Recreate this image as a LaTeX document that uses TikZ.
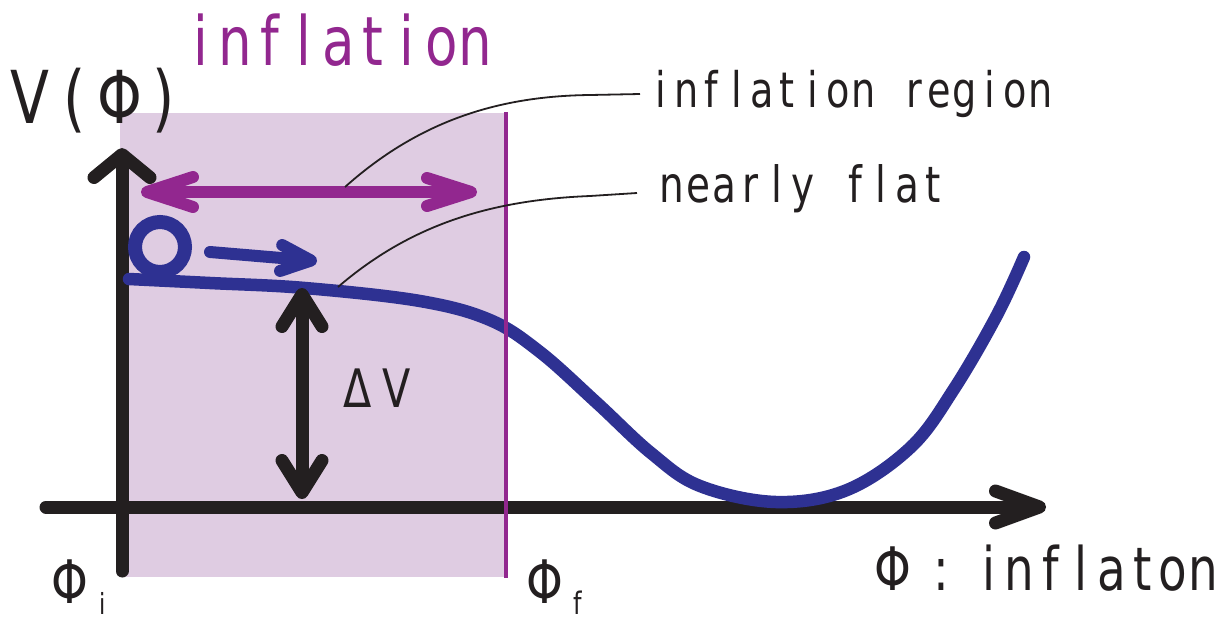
\documentclass[tikz,border=0pt]{standalone}
\usepackage{fontspec}
\setmainfont{DejaVu Sans}
\newfontfamily\jf[FakeStretch=0.78]{DejaVu Sans}
\usetikzlibrary{arrows.meta}
\definecolor{pur}{RGB}{146,39,143}
\definecolor{blu}{RGB}{46,49,146}
\definecolor{blk}{RGB}{35,31,32}
\definecolor{regionfill}{RGB}{223,204,226}
\newlength\mpitch
\def\mono#1{\monoloop#1\relax}
\def\monoloop#1{\ifx#1\relax\else\makebox[\mpitch][c]{#1}\expandafter\monoloop\fi}
\newcommand\fsz[1]{\jf\fontsize{#1pt}{#1pt}\selectfont}
\begin{document}
\begin{tikzpicture}[x=1pt,y=-1pt,
  txt/.style={inner sep=0pt, anchor=base west, text=blk},
  axisline/.style={draw=blk, line width=13pt, line cap=round, line join=round},
  leader/.style={draw=blk, line width=1.8pt},
]
\useasboundingbox (0,0) rectangle (1226,622);
% shaded inflation region
\fill[regionfill] (120,113) rectangle (506,577);
% axes
\coordinate (ybot) at (122,571);
\coordinate (ytop) at (122,148);
\coordinate (xl) at (46,507);
\coordinate (xr) at (1046,507);
\draw[axisline, -{Straight Barb[round,length=23pt,width=56pt]}] (ybot) -- (ytop);
\draw[axisline, -{Straight Barb[round,length=44pt,width=32pt]}] (xl) -- (xr);
% potential curve
\draw[blu, line width=12.5pt, line cap=round, line join=round]
  plot[smooth, tension=0.6] coordinates {(129,279) (210,283) (305,288) (420,301) (490,320) (540,352) (597,403) (651,453) (700,486) (776,502) (847,490) (911,447) (954,389) (997,315) (1024,257)};
% boundary of inflation region
\draw[pur, line width=3.5pt] (506,112) -- (506,578);
% inflation double arrow
\coordinate (pl) at (141,192);
\coordinate (pr) at (477,192);
\draw[pur, line width=12pt, line cap=round, {Straight Barb[round,length=46pt,width=30pt]}-{Straight Barb[round,length=44pt,width=28pt]}] (pl) -- (pr);
% ball and motion arrow
\node[circle, draw=blu, line width=14pt, minimum size=50pt, inner sep=0pt, outer sep=0pt] (ball) at (160,247) {};
\coordinate (ms) at (210,252);
\coordinate (me) at (317,261);
\draw[blu, line width=12pt, line cap=round, -{Straight Barb[round,length=30pt,width=26pt]}] (ms) -- (me);
% Delta V arrow
\coordinate (dvt) at (302,288);
\coordinate (dvb) at (302,499);
\draw[axisline, {Straight Barb[round,length=32pt,width=40pt]}-{Straight Barb[round,length=32pt,width=40pt]}] (dvt) -- (dvb);
% texts
\node[txt, text=pur, font=\fsz{68}] (title) at (184,65) {\setlength\mpitch{34.3pt}\mono{inflation}};
\node[txt, font=\fsz{49}] (lbl1) at (648,107) {\setlength\mpitch{25.3pt}\mono{inflation~region}};
\node[txt, font=\fsz{50}] (lbl2) at (659,202) {\setlength\mpitch{26.1pt}\mono{nearly~flat}};
\node[txt, font=\fsz{73}] (vphi) at (8,123) {\setlength\mpitch{44.5pt}\mono{V(Φ)}};
\node[txt, font=\fsz{60}] (xlab) at (869,590) {\setlength\mpitch{30.6pt}\makebox[48pt][c]{Φ}\makebox[48pt][c]{:}\hspace{8.7pt}\mono{inflaton}};
\node[txt, font=\fsz{60}] (phii) at (48,603) {\makebox[44pt][c]{Φ}\hspace{7pt}\raisebox{-11pt}{\fsz{29}i}};
\node[txt, font=\fsz{60}] (phif) at (523,603) {\makebox[44pt][c]{Φ}\hspace{6pt}\raisebox{-11pt}{\fsz{31}f}};
\node[txt, font=\fsz{53}] (dv) at (337.5,407) {\setlength\mpitch{39pt}\mono{ΔV}};
% leader lines
\coordinate (l1s) at (345,187);
\coordinate (l1e) at (640,94);
\coordinate (l2s) at (338,287);
\coordinate (l2e) at (637,193);
\draw[leader] (l1s) .. controls (420,120) and (500,96) .. (590,95) -- (l1e);
\draw[leader] (l2s) .. controls (410,225) and (490,200) .. (590,196) -- (l2e);
\end{tikzpicture}
\end{document}
